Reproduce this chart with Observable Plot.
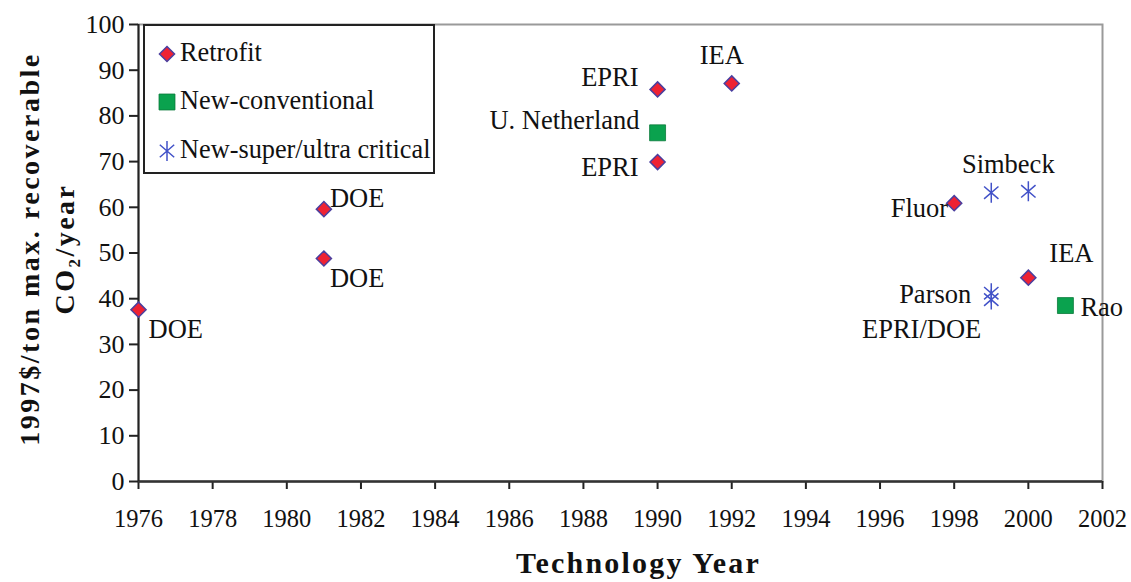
<!DOCTYPE html>
<html>
<head>
<meta charset="utf-8">
<script src="https://cdn.jsdelivr.net/npm/d3@7"></script>
<script src="https://cdn.jsdelivr.net/npm/@observablehq/plot@0.6"></script>
<style>
  html, body { margin: 0; padding: 0; background: #fff; }
  #wrap { position: relative; width: 1131px; height: 582px; }
  #legend { position: absolute; left: 143px; top: 24px; width: 288px; height: 146px;
    border: 2px solid #222; background: #fff; overflow: hidden;
    font-family: "Liberation Serif", "Times New Roman", serif; font-size: 26.3px; color: #111; }
  #legend .row { position: absolute; left: 0; height: 30px; white-space: nowrap; }
  #legend .row svg { position: absolute; left: 11px; top: 5px; }
  #legend .row span { position: absolute; left: 35px; top: 0px; line-height: 30px; }
  g[aria-label="x-axis tick label"] text { fill: #111; font-size: 24.5px; }
  g[aria-label="y-axis tick label"] text { fill: #111; font-size: 26px; }
</style>
</head>
<body>
<div id="wrap"></div>
<script>
// ---- data ----
const years   = [1976, 1981, 1981, 1990, 1990, 1990, 1992, 1998, 1999, 2000, 2000, 1999, 1999, 2001];
const values  = [37.6, 59.6, 48.8, 85.8, 76.3, 69.9, 87.1, 60.9, 63.2, 63.5, 44.6, 41.2, 39.8, 38.5];
const series  = ["Retrofit", "Retrofit", "Retrofit", "Retrofit", "New-conventional", "Retrofit", "Retrofit",
                 "Retrofit", "New-super/ultra critical", "New-super/ultra critical", "Retrofit",
                 "New-super/ultra critical", "New-super/ultra critical", "New-conventional"];
const sources = ["DOE", "DOE", "DOE", "EPRI", "U. Netherland", "EPRI", "IEA",
                 "Fluor", "Simbeck", "", "IEA", "Parson", "EPRI/DOE", "Rao"];
const seriesNames = ["Retrofit", "New-conventional", "New-super/ultra critical"];
const xTicks = [1976, 1978, 1980, 1982, 1984, 1986, 1988, 1990, 1992, 1994, 1996, 1998, 2000, 2002];
const yTicks = [0, 10, 20, 30, 40, 50, 60, 70, 80, 90, 100];
const xTitle = "Technology Year";
const yTitle = "1997$/ton max. recoverable\nCO₂/year";

// ---- label layout (anchor, dx, dy) ----
const labelLayout = [
  ["start", 10, 20], ["start", 6, -11], ["start", 6, 20], ["end", -19, -12], ["end", -18, -12],
  ["end", -19, 5], ["middle", -10, -28], ["end", -6, 5], ["middle", 17, -28], ["start", 0, 0],
  ["start", 21, -24], ["end", -20, 1], ["end", -10, 30], ["start", 15, 2]
];

const data = years.map((x, i) => ({x, y: values[i], series: series[i], source: sources[i], i}));

// asterisk marker: vertical stroke plus a steep X
const asterisk = {
  draw(context, size) {
    const r = Math.sqrt(size) * 0.6;
    context.moveTo(0, -r); context.lineTo(0, r);
    context.moveTo(-0.72 * r, -0.62 * r); context.lineTo(0.72 * r, 0.62 * r);
    context.moveTo(-0.72 * r, 0.62 * r); context.lineTo(0.72 * r, -0.62 * r);
  }
};

const styles = {
  "Retrofit": {symbol: "diamond2", r: 6.8, fill: "#ee2233", stroke: "#4a3f9f", strokeWidth: 1.5},
  "New-conventional": {symbol: "square", r: 9, fill: "#0aa24e", stroke: "#0a7a3a", strokeWidth: 0.8},
  "New-super/ultra critical": {symbol: asterisk, r: 9.4, fill: "none", stroke: "#4252c8", strokeWidth: 1.5}
};

const font = "'Liberation Serif', 'Times New Roman', serif";

const labelMarks = data.filter(d => d.source).map(d => {
  const [anchor, dx, dy] = labelLayout[d.i];
  return Plot.text([d], {x: "x", y: "y", text: "source", textAnchor: anchor, dx, dy,
    fontSize: 26.5, fill: "#111"});
});

const chart = Plot.plot({
  width: 1131,
  height: 582,
  marginLeft: 138,
  marginRight: 29,
  marginTop: 24,
  marginBottom: 101,
  style: {fontFamily: font, fontSize: "25px", color: "#111", background: "#fff"},
  x: {domain: [1976, 2002]},
  y: {domain: [0, 100]},
  marks: [
    Plot.frame({stroke: "#9a9a9a", strokeWidth: 2}),
    Plot.axisX({ticks: xTicks, tickFormat: d => String(d), tickSize: 8, tickPadding: 20,
      label: null, stroke: "#222", strokeWidth: 2}),
    Plot.axisY({ticks: yTicks, tickSize: 9, tickPadding: 5, label: null, stroke: "#222", strokeWidth: 2}),
    Plot.ruleY([0], {stroke: "#333", strokeWidth: 2.5}),
    Plot.ruleX([1976], {stroke: "#222", strokeWidth: 2}),
    ...seriesNames.map(s => Plot.dot(data.filter(d => d.series === s), {x: "x", y: "y", ...styles[s]})),
    ...labelMarks,
    Plot.text([xTitle], {frameAnchor: "bottom", dy: 91, dx: 18, text: d => d, fontSize: 30,
      fontWeight: "bold", fill: "#111"}),
    Plot.text([yTitle], {frameAnchor: "left", dx: -93, dy: -4, rotate: -90, text: d => d, fontSize: 28,
      fontWeight: "bold", fill: "#111", textAnchor: "middle", lineAnchor: "middle", lineHeight: 1.22})
  ]
});

// letter spacing of the bold axis titles
d3.select(chart).selectAll("text").each(function () {
  const t = this.textContent;
  if (t.startsWith("Technology")) this.style.letterSpacing = "2.2px";
  if (t.startsWith("1997$")) this.style.letterSpacing = "2.5px";
});

const wrap = document.getElementById("wrap");
wrap.appendChild(chart);

// ---- legend ----
const legend = document.createElement("div");
legend.id = "legend";
const rowTops = [12, 60, 109];
seriesNames.forEach((s, k) => {
  const row = document.createElement("div");
  row.className = "row";
  row.style.top = rowTops[k] + "px";
  const st = styles[s];
  const sym = typeof st.symbol === "string"
    ? {diamond2: d3.symbolDiamond2, square: d3.symbolSquare}[st.symbol] : st.symbol;
  const size = Math.PI * st.r * st.r;
  const svg = d3.create("svg").attr("width", 22).attr("height", 22);
  svg.append("path").attr("transform", "translate(11,11)")
    .attr("d", d3.symbol(sym, size)())
    .attr("fill", st.fill).attr("stroke", st.stroke).attr("stroke-width", st.strokeWidth);
  row.appendChild(svg.node());
  const span = document.createElement("span");
  span.textContent = s;
  row.appendChild(span);
  legend.appendChild(row);
});
wrap.appendChild(legend);
</script>
</body>
</html>
